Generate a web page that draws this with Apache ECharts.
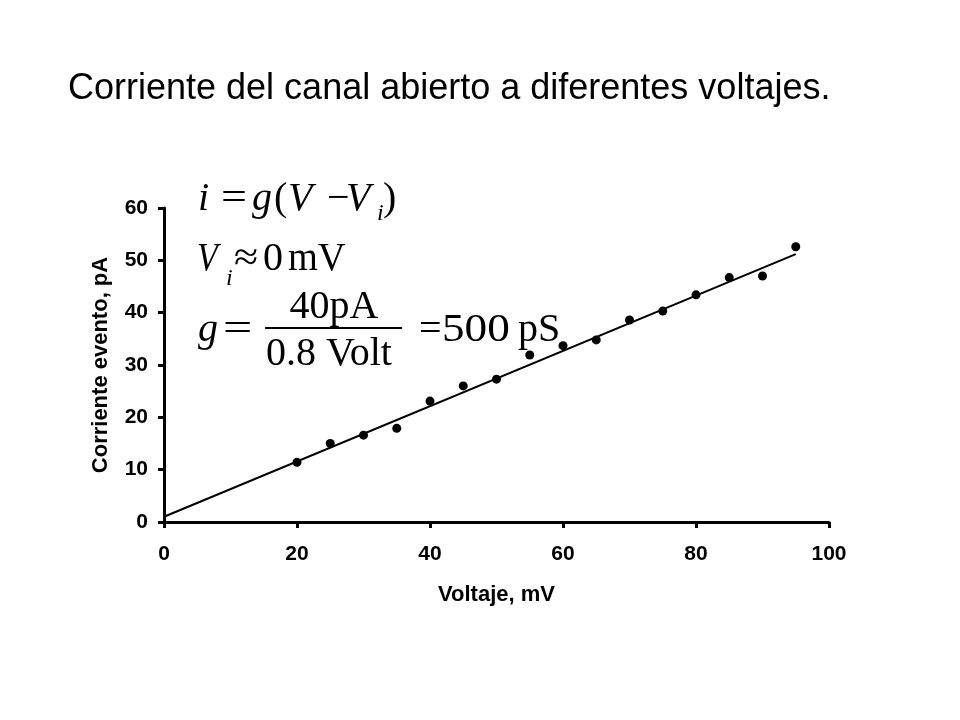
<!DOCTYPE html>
<html>
<head>
<meta charset="utf-8">
<script src="https://cdn.jsdelivr.net/npm/echarts@6/dist/echarts.min.js"></script>
<style>html,body{margin:0;padding:0;background:#fff;}#c{width:960px;height:720px;}</style>
</head>
<body>
<div id="c"></div>
<script>
// Data
const voltages = [20, 25, 30, 35, 40, 45, 50, 55, 60, 65, 70, 75, 80, 85, 90, 95];
const currents = [11.4, 15.0, 16.6, 17.9, 23.1, 26.0, 27.3, 31.9, 33.7, 34.8, 38.6, 40.3, 43.4, 46.7, 47.0, 52.6];
const fitVoltages = [0, 95];
const fitCurrents = [1.0, 51.2];
const xTicks = [0, 20, 40, 60, 80, 100];
const yTicks = [0, 10, 20, 30, 40, 50, 60];
const titleText = 'Corriente del canal abierto a diferentes voltajes.';
const xName = 'Voltaje, mV';
const yName = 'Corriente evento, pA';

const chart = echarts.init(document.getElementById('c'), null, {renderer: 'canvas'});
const SERIF = '"Liberation Serif", "Times New Roman", serif';
const SANS = '"Liberation Sans", Arial, sans-serif';
const MID = 13; // baseline -> middle offset for 40px serif

function t(text, x, baseline, opts) {
  opts = opts || {};
  const size = opts.size || 40;
  return {
    type: 'text', x: x, y: baseline - MID * size / 40, z: 100,
    scaleX: opts.sx || 1,
    style: {
      text: text, fill: '#000', fontFamily: SERIF, fontSize: size,
      fontStyle: opts.italic ? 'italic' : 'normal',
      align: opts.align || 'left', verticalAlign: 'middle'
    }
  };
}

const graphics = [
  // line 1: i = g(V - V_i)
  t('i', 198, 212, {italic: true}),
  t('=', 221, 212, {sx: 1.15}),
  t('g', 252, 212, {italic: true}),
  t('(', 274, 212),
  t('V', 288, 212, {italic: true}),
  t('\u2212', 327, 212),
  t('V', 346, 212, {italic: true}),
  t('i', 377, 221, {italic: true, size: 24}),
  t(')', 383, 212),
  // line 2: V_i ≈ 0 mV
  t('V', 197, 272, {italic: true, sx: 0.85}),
  t('i', 226, 286, {italic: true, size: 24}),
  t('\u2248', 234, 272, {sx: 1.1}),
  t('0', 263, 272),
  t('mV', 288, 272, {sx: 0.96}),
  // line 3: g = 40pA / 0.8 Volt = 500 pS
  t('g', 198, 343, {italic: true}),
  t('=', 223, 343, {sx: 1.3}),
  t('40pA', 334, 320, {align: 'center'}),
  {type: 'rect', z: 100, shape: {x: 265, y: 327, width: 137, height: 2}, style: {fill: '#000'}},
  t('0.8 Volt', 329, 367, {align: 'center'}),
  t('=', 419, 343),
  t('500', 442, 343, {sx: 1.13}),
  t('pS', 518, 343)
];

chart.setOption({
  animation: false,
  backgroundColor: '#fff',
  title: {
    text: titleText, left: 63, top: 66,
    textStyle: {fontFamily: SANS, fontSize: 36, fontWeight: 'normal', color: '#000'}
  },
  grid: {left: 164, right: 131, top: 208, bottom: 198, containLabel: false},
  xAxis: {
    type: 'value', min: 0, max: 100, interval: 20,
    name: xName, nameLocation: 'middle', nameGap: 62,
    nameTextStyle: {fontFamily: SANS, fontSize: 22, fontWeight: 'bold', color: '#000'},
    axisLine: {show: true, lineStyle: {color: '#000', width: 3}},
    axisTick: {show: true, inside: false, length: 6, lineStyle: {color: '#000', width: 3}},
    axisLabel: {margin: 22, fontFamily: SANS, fontSize: 21, fontWeight: 'bold', color: '#000',
      formatter: v => xTicks.includes(v) ? String(v) : ''},
    splitLine: {show: false}
  },
  yAxis: {
    type: 'value', min: 0, max: 60, interval: 10,
    name: yName, nameLocation: 'middle', nameGap: 52,
    nameTextStyle: {fontFamily: SANS, fontSize: 22, fontWeight: 'bold', color: '#000'},
    axisLine: {show: true, lineStyle: {color: '#000', width: 3}},
    axisTick: {show: true, inside: false, length: 6, lineStyle: {color: '#000', width: 3}},
    axisLabel: {margin: 16, fontFamily: SANS, fontSize: 21, fontWeight: 'bold', color: '#000',
      formatter: v => yTicks.includes(v) ? String(v) : ''},
    splitLine: {show: false}
  },
  series: [
    {
      type: 'line', data: fitVoltages.map((v, i) => [v, fitCurrents[i]]),
      symbol: 'none', lineStyle: {color: '#000', width: 2}, z: 2
    },
    {
      type: 'scatter', data: voltages.map((v, i) => [v, currents[i]]),
      symbol: 'circle', symbolSize: 9, itemStyle: {color: '#000', opacity: 1}, z: 3
    }
  ],
  graphic: graphics
});
</script>
</body>
</html>
